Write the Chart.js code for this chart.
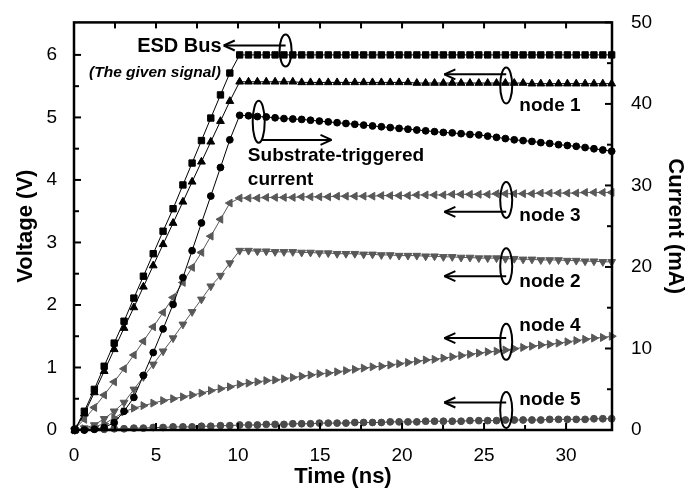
<!DOCTYPE html>
<html>
<head>
<meta charset="utf-8">
<script src="https://cdn.jsdelivr.net/npm/chart.js@4.4.1/dist/chart.umd.min.js"></script>
<style>
  html, body { margin: 0; padding: 0; background: #fff; }
  #wrap { width: 692px; height: 494px; }
</style>
</head>
<body>
<div id="wrap"><canvas id="chart" width="692" height="494"></canvas></div>
<script>
// time axis (ns), shared by every trace
const timeNs = [
  0.05, 0.63, 1.24, 1.84, 2.45, 3.05, 3.65, 4.23, 4.83, 5.43, 6.04, 6.64, 7.2, 7.77, 8.34, 8.93, 9.5,
  10.1, 10.64, 11.18, 11.72, 12.26, 12.8, 13.34, 13.88, 14.42, 14.96,
  15.5, 16.04, 16.58, 17.12, 17.66, 18.2, 18.74, 19.28, 19.82, 20.36,
  20.9, 21.44, 21.98, 22.52, 23.06, 23.6, 24.14, 24.68, 25.22, 25.76,
  26.3, 26.84, 27.38, 27.92, 28.46, 29.0, 29.54, 30.08, 30.62, 31.16,
  31.7, 32.24, 32.78
];

// voltages (V)
const esdBus = [
  0, 0.3, 0.65, 1.02, 1.39, 1.74, 2.11, 2.46, 2.82, 3.18, 3.54, 3.92, 4.27, 4.63, 4.99, 5.36, 5.71,
  6.0, 6.0, 6.0, 6.0, 6.0, 6.0, 6.0, 6.0, 6.0, 6.0,
  6.0, 6.0, 6.0, 6.0, 6.0, 6.0, 6.0, 6.0, 6.0, 6.0,
  6.0, 6.0, 6.0, 6.0, 6.0, 6.0, 6.0, 6.0, 6.0, 6.0,
  6.0, 6.0, 6.0, 6.0, 6.0, 6.0, 6.0, 6.0, 6.0, 6.0,
  6.0, 6.0, 6.0
];
const node1 = [
  0, 0.26, 0.6, 0.94, 1.29, 1.63, 1.96, 2.29, 2.63, 2.97, 3.31, 3.65, 3.97, 4.29, 4.61, 4.94, 5.26,
  5.57, 5.57, 5.57, 5.57, 5.57, 5.57, 5.57, 5.56, 5.56, 5.56,
  5.56, 5.56, 5.56, 5.56, 5.56, 5.56, 5.56, 5.56, 5.56, 5.56,
  5.55, 5.55, 5.55, 5.55, 5.55, 5.55, 5.55, 5.55, 5.55, 5.55,
  5.55, 5.55, 5.55, 5.54, 5.54, 5.54, 5.54, 5.54, 5.54, 5.54,
  5.54, 5.54, 5.54
];
const node3 = [
  0.02, 0.17, 0.36, 0.56, 0.77, 0.98, 1.2, 1.42, 1.65, 1.88, 2.12, 2.36, 2.6, 2.84, 3.1, 3.37, 3.63,
  3.71, 3.71, 3.71, 3.72, 3.72, 3.72, 3.72, 3.73, 3.73, 3.73,
  3.73, 3.74, 3.74, 3.74, 3.74, 3.74, 3.75, 3.75, 3.75, 3.75,
  3.76, 3.76, 3.76, 3.76, 3.77, 3.77, 3.77, 3.77, 3.77, 3.78,
  3.78, 3.78, 3.78, 3.78, 3.79, 3.79, 3.79, 3.79, 3.79, 3.8,
  3.8, 3.8, 3.8
];
const node2 = [
  0, 0.03, 0.08, 0.18, 0.3, 0.44, 0.65, 0.85, 1.05, 1.26, 1.47, 1.69, 1.89, 2.09, 2.3, 2.47, 2.67,
  2.87, 2.87, 2.86, 2.86, 2.85, 2.85, 2.85, 2.84, 2.84, 2.83,
  2.83, 2.82, 2.82, 2.82, 2.81, 2.81, 2.8, 2.8, 2.79, 2.79,
  2.79, 2.78, 2.78, 2.77, 2.77, 2.76, 2.76, 2.75, 2.75, 2.75,
  2.74, 2.74, 2.73, 2.73, 2.72, 2.72, 2.72, 2.71, 2.71, 2.7,
  2.7, 2.69, 2.69
];
const node4 = [
  0, 0.02, 0.05, 0.1, 0.19, 0.29, 0.35, 0.39, 0.43, 0.47, 0.5, 0.53, 0.56, 0.59, 0.63, 0.66, 0.69,
  0.73, 0.75, 0.77, 0.79, 0.8, 0.82, 0.84, 0.86, 0.88, 0.9,
  0.91, 0.93, 0.95, 0.97, 0.99, 1.01, 1.02, 1.04, 1.06, 1.08,
  1.1, 1.12, 1.13, 1.15, 1.17, 1.19, 1.21, 1.23, 1.25, 1.26,
  1.28, 1.3, 1.32, 1.34, 1.36, 1.37, 1.39, 1.41, 1.43, 1.45,
  1.47, 1.48, 1.5
];
const node5 = [
  0, 0, 0.01, 0.01, 0.02, 0.02, 0.03, 0.03, 0.04, 0.04, 0.05, 0.05, 0.05, 0.06, 0.06, 0.07, 0.07,
  0.08, 0.08, 0.08, 0.09, 0.09, 0.09, 0.1, 0.1, 0.1, 0.11,
  0.11, 0.11, 0.11, 0.12, 0.12, 0.12, 0.12, 0.13, 0.13, 0.13,
  0.13, 0.14, 0.14, 0.14, 0.14, 0.14, 0.15, 0.15, 0.15, 0.15,
  0.16, 0.16, 0.16, 0.16, 0.16, 0.17, 0.17, 0.17, 0.17, 0.17,
  0.18, 0.18, 0.18
];
// substrate-triggered current (mA), right axis
const substrateCurrent = [
  0, 0, 0.1, 0.3, 0.9, 2.3, 4.0, 6.7, 9.5, 12.4, 15.4, 18.7, 22.0, 25.4, 28.7, 32.2, 35.6,
  38.6, 38.55, 38.45, 38.4, 38.3, 38.2, 38.15, 38.1, 38.0, 37.9,
  37.8, 37.7, 37.6, 37.5, 37.4, 37.3, 37.2, 37.1, 37.0, 36.9,
  36.8, 36.7, 36.6, 36.5, 36.45, 36.35, 36.25, 36.2, 36.05, 35.9,
  35.75, 35.6, 35.5, 35.4, 35.25, 35.15, 35.0, 34.9, 34.8, 34.65,
  34.5, 34.35, 34.2
];

// axis ranges
const timeRange = [0, 32.8];
const voltRange = [0, 6.52];
const currRange = [0, 50];

// labels and callouts (placed in data units: time, voltage)
const textNotes = [
  { text: 'ESD Bus', t: 9.0, v: 6.13, align: 'right', font: 'bold 20px "Liberation Sans", Arial' },
  { text: '(The given signal)', t: 8.95, v: 5.72, align: 'right', font: 'italic bold 15.5px "Liberation Sans", Arial' },
  { text: 'node 1', t: 27.15, v: 5.18 },
  { text: 'Substrate-triggered', t: 10.6, v: 4.39 },
  { text: 'current', t: 10.6, v: 4.0 },
  { text: 'node 3', t: 27.15, v: 3.43 },
  { text: 'node 2', t: 27.15, v: 2.37 },
  { text: 'node 4', t: 27.15, v: 1.66 },
  { text: 'node 5', t: 27.15, v: 0.49 }
];
const rings = [
  { t: 12.9, v: 6.07, ry: 16 },
  { t: 26.35, v: 5.51, ry: 18 },
  { t: 11.26, v: 4.93, ry: 21 },
  { t: 26.35, v: 3.68, ry: 18 },
  { t: 26.35, v: 2.62, ry: 18 },
  { t: 26.35, v: 1.41, ry: 18 },
  { t: 26.35, v: 0.32, ry: 18 }
];
const arrows = [
  { from: 12.9, to: 9.13, v: 6.15 },
  { from: 26.35, to: 22.58, v: 5.69 },
  { from: 11.45, to: 15.7, v: 4.64 },
  { from: 26.35, to: 22.58, v: 3.49 },
  { from: 26.35, to: 22.58, v: 2.46 },
  { from: 26.35, to: 22.58, v: 1.47 },
  { from: 26.35, to: 22.58, v: 0.44 }
];

const FONT = '"Liberation Sans", Arial, sans-serif';
const GREY = '#585858';

function pts(values) {
  return timeNs.map((t, i) => ({ x: t, y: values[i] }));
}

function trace(values, opts) {
  return Object.assign({
    data: pts(values),
    showLine: true,
    borderWidth: 1,
    clip: false,
    yAxisID: 'y'
  }, opts);
}

// frame, inward ticks, callouts and axis titles
const decorations = {
  id: 'decorations',
  afterDraw(chart) {
    const { ctx, chartArea: a, scales } = chart;
    const xs = scales.x, ys = scales.y, yc = scales.yCur;
    const line = (x1, y1, x2, y2) => {
      ctx.beginPath(); ctx.moveTo(x1, y1); ctx.lineTo(x2, y2); ctx.stroke();
    };
    ctx.save();
    ctx.strokeStyle = '#000';
    ctx.lineWidth = 2;

    xs.ticks.forEach(tk => {
      if (Math.abs(tk.value / 2.5 - Math.round(tk.value / 2.5)) > 1e-6) return;
      const px = xs.getPixelForValue(tk.value);
      const len = tk.value % 5 === 0 ? 7 : 5;
      line(px, a.bottom, px, a.bottom - len);
      line(px, a.top, px, a.top + 6);
    });
    ys.ticks.forEach(tk => {
      if (Math.abs(tk.value * 2 - Math.round(tk.value * 2)) > 1e-6) return;
      const py = ys.getPixelForValue(tk.value);
      const len = Number.isInteger(tk.value) ? 7 : 5;
      line(a.left, py, a.left + len, py);
    });
    yc.ticks.forEach(tk => {
      if (tk.value % 5 !== 0) return;
      const py = yc.getPixelForValue(tk.value);
      const len = tk.value % 10 === 0 ? 7 : 5;
      line(a.right, py, a.right - len, py);
    });

    ctx.lineWidth = 2.5;
    ctx.strokeRect(a.left, a.top, a.right - a.left, a.bottom - a.top);

    // callout rings
    ctx.lineWidth = 2;
    rings.forEach(r => {
      ctx.beginPath();
      ctx.ellipse(xs.getPixelForValue(r.t), ys.getPixelForValue(r.v), 6, r.ry, 0, 0, Math.PI * 2);
      ctx.stroke();
    });
    // arrows
    arrows.forEach(ar => {
      const x1 = xs.getPixelForValue(ar.from), x2 = xs.getPixelForValue(ar.to);
      const py = ys.getPixelForValue(ar.v);
      const dir = x2 < x1 ? 1 : -1;
      line(x1, py, x2, py);
      line(x2, py, x2 + dir * 11, py - 5);
      line(x2, py, x2 + dir * 11, py + 5);
    });
    // texts
    ctx.fillStyle = '#000';
    ctx.textBaseline = 'middle';
    textNotes.forEach(n => {
      ctx.font = n.font || ('bold 19px ' + FONT);
      ctx.textAlign = n.align || 'left';
      ctx.fillText(n.text, xs.getPixelForValue(n.t), ys.getPixelForValue(n.v));
    });

    // axis titles
    ctx.font = 'bold 22px ' + FONT;
    ctx.textAlign = 'center';
    ctx.fillText('Time (ns)', (a.left + a.right) / 2, a.bottom + 47);
    ctx.save();
    ctx.translate(a.left - 48, (a.top + a.bottom) / 2);
    ctx.rotate(-Math.PI / 2);
    ctx.fillText('Voltage (V)', 0, 0);
    ctx.restore();
    ctx.save();
    ctx.translate(a.right + 63, (a.top + a.bottom) / 2);
    ctx.rotate(Math.PI / 2);
    ctx.fillText('Current (mA)', 0, 0);
    ctx.restore();

    ctx.restore();
  }
};

const tickFont = { family: FONT, size: 19 };

new Chart(document.getElementById('chart').getContext('2d'), {
  type: 'scatter',
  data: {
    datasets: [
      trace(esdBus, { label: 'ESD Bus', pointStyle: 'rect', pointRadius: 4.5,
        backgroundColor: '#000', borderColor: '#000' }),
      trace(node1, { label: 'node 1', pointStyle: 'triangle', pointRadius: 4.5,
        backgroundColor: '#000', borderColor: '#000' }),
      trace(substrateCurrent, { label: 'Substrate-triggered current', yAxisID: 'yCur',
        pointStyle: 'circle', pointRadius: 3.4, backgroundColor: '#000', borderColor: '#000' }),
      trace(node3, { label: 'node 3', pointStyle: 'triangle', pointRotation: -90, pointRadius: 4.5,
        backgroundColor: GREY, borderColor: GREY }),
      trace(node2, { label: 'node 2', pointStyle: 'triangle', pointRotation: 180, pointRadius: 4.5,
        backgroundColor: GREY, borderColor: GREY }),
      trace(node4, { label: 'node 4', pointStyle: 'triangle', pointRotation: 90, pointRadius: 4.6,
        backgroundColor: GREY, borderColor: GREY }),
      trace(node5, { label: 'node 5', pointStyle: 'circle', pointRadius: 3.4,
        backgroundColor: '#4a4a4a', borderColor: '#4a4a4a' })
    ]
  },
  options: {
    responsive: false,
    animation: false,
    devicePixelRatio: 1,
    layout: { padding: { top: 17, left: 0, right: 0, bottom: 0 } },
    plugins: { legend: { display: false }, tooltip: { enabled: false } },
    elements: { point: { borderWidth: 0 } },
    scales: {
      x: {
        type: 'linear', min: timeRange[0], max: timeRange[1],
        grid: { display: false }, border: { display: false },
        ticks: {
          stepSize: 2.5, autoSkip: false, maxRotation: 0, padding: 6,
          color: '#000', font: tickFont,
          callback: v => (v % 5 === 0 ? v : '')
        },
        afterFit: s => { s.height = 64; }
      },
      y: {
        position: 'left', min: voltRange[0], max: voltRange[1],
        grid: { display: false }, border: { display: false },
        ticks: {
          stepSize: 0.5, autoSkip: false, padding: 9,
          color: '#000', font: tickFont,
          callback: v => (Number.isInteger(v) ? v : '')
        },
        afterFit: s => { s.width = 74; }
      },
      yCur: {
        position: 'right', min: currRange[0], max: currRange[1],
        grid: { display: false }, border: { display: false },
        ticks: {
          stepSize: 5, autoSkip: false, padding: 11,
          color: '#000', font: tickFont,
          callback: v => (v % 10 === 0 ? v : '')
        },
        afterFit: s => { s.width = 80; }
      }
    }
  },
  plugins: [decorations]
});
</script>
</body>
</html>
